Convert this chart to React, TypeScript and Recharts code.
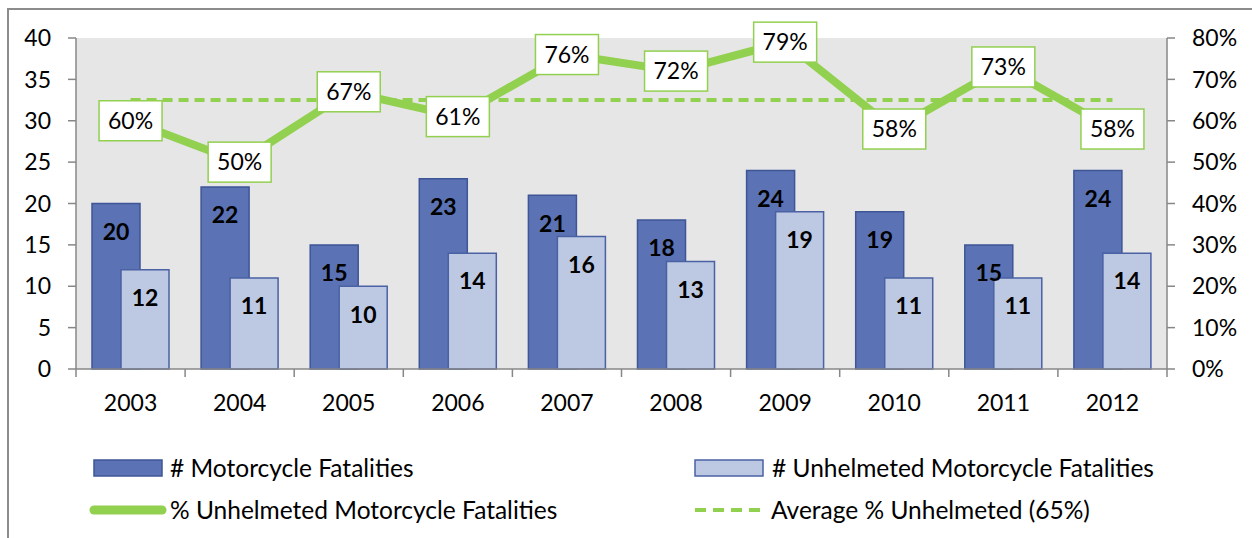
import {
  ComposedChart,
  Bar,
  Line,
  XAxis,
  YAxis,
  CartesianGrid,
  LabelList,
} from "recharts";

const years = ["2003", "2004", "2005", "2006", "2007", "2008", "2009", "2010", "2011", "2012"];
const fatalities = [20, 22, 15, 23, 21, 18, 24, 19, 15, 24];
const unhelmeted = [12, 11, 10, 14, 16, 13, 19, 11, 11, 14];
const pctUnhelmeted = [60, 50, 67, 61, 76, 72, 79, 58, 73, 58];
const avgPct = [65, 65, 65, 65, 65, 65, 65, 65, 65, 65];

const leftTicks = [0, 5, 10, 15, 20, 25, 30, 35, 40];
const rightTicks = [0, 10, 20, 30, 40, 50, 60, 70, 80];

const DARK = "#5b73b4";
const DARK_EDGE = "#3e5596";
const LIGHT = "#bdc9e3";
const LIGHT_EDGE = "#4a61a3";
const GREEN = "#92d050";
const AXIS = "#878787";
const FONT = "Lato, 'Open Sans', sans-serif";

const data = years.map((year, i) => ({
  year,
  total: fatalities[i],
  unhelmeted: unhelmeted[i],
  pct: pctUnhelmeted[i],
  avg: avgPct[i],
}));

// x ticks sit on the category boundaries, like the original
function YearTick(props: any) {
  const { x, y, payload, index } = props;
  const half = payload.offset || 0;
  const top = y - 26;
  return (
    <g>
      <line x1={x - half} x2={x - half} y1={top} y2={top + 8} stroke={AXIS} strokeWidth={1.5} />
      {index === years.length - 1 && (
        <line x1={x + half} x2={x + half} y1={top} y2={top + 8} stroke={AXIS} strokeWidth={1.5} />
      )}
      <text x={x} y={y} dy="0.71em" textAnchor="middle" fontSize={23} fill="#000" fontFamily={FONT}>
        {payload.value}
      </text>
    </g>
  );
}

function PctLabel(props: any) {
  const { x, y, value } = props;
  if (x == null || y == null) return null;
  return (
    <g>
      <rect x={x - 31.5} y={y - 20} width={63} height={40} fill="#fff" stroke={GREEN} strokeWidth={1.5} />
      <text x={x} y={y} dy="0.36em" textAnchor="middle" fontSize={23} fill="#000" fontFamily={FONT}>
        {value}%
      </text>
    </g>
  );
}

function LegendRow() {
  const text = { position: "absolute" as const, fontSize: 24.5, color: "#000", fontFamily: FONT, lineHeight: "26px" };
  return (
    <>
      <svg style={{ position: "absolute", left: 0, top: 440 }} width={1252} height={98}>
        <rect x={94} y={20} width={68} height={16} fill={DARK} stroke={DARK_EDGE} strokeWidth={1.5} />
        <rect x={695} y={20} width={68} height={16} fill={LIGHT} stroke={LIGHT_EDGE} strokeWidth={1.5} />
        <line x1={94} x2={162} y1={70} y2={70} stroke={GREEN} strokeWidth={9} strokeLinecap="round" />
        <line x1={695} x2={760} y1={70} y2={70} stroke={GREEN} strokeWidth={4} strokeDasharray="11 7" />
      </svg>
      <div style={{ ...text, left: 170, top: 455 }}># Motorcycle Fatalities</div>
      <div style={{ ...text, left: 772, top: 455 }}># Unhelmeted Motorcycle Fatalities</div>
      <div style={{ ...text, left: 170, top: 497 }}>% Unhelmeted Motorcycle Fatalities</div>
      <div style={{ ...text, left: 771, top: 497 }}>Average % Unhelmeted (65%)</div>
    </>
  );
}

export default function App() {
  return (
    <div
      style={{
        position: "absolute",
        left: 0,
        top: 0,
        width: 1252,
        height: 538,
        background: "#fff",
        overflow: "hidden",
        fontFamily: FONT,
      }}
    >
      <div
        style={{
          position: "absolute",
          left: 7,
          top: 8,
          width: 1300,
          height: 600,
          border: "2px solid #8c8c8c",
        }}
      />
      <div style={{ position: "absolute", left: 0, top: 0 }}>
        <ComposedChart
          width={1252}
          height={440}
          data={data}
          margin={{ top: 38, right: 25, bottom: 21, left: 16 }}
          barGap={-19}
        >
          <CartesianGrid fill="#e6e6e6" horizontal={false} vertical={false} stroke="none" />
          <XAxis
            dataKey="year"
            height={50}
            tickLine={false}
            tickSize={8}
            tickMargin={18}
            axisLine={{ stroke: AXIS, strokeWidth: 1.5 }}
            tick={<YearTick />}
            interval={0}
          />
          <YAxis
            yAxisId="l"
            width={60}
            domain={[0, 40]}
            ticks={leftTicks}
            tickSize={8}
            tickMargin={17}
            axisLine={{ stroke: AXIS, strokeWidth: 1.5 }}
            tickLine={{ stroke: AXIS, strokeWidth: 1.5 }}
            tick={{ fill: "#000", fontSize: 23, fontFamily: FONT }}
          />
          <YAxis
            yAxisId="r"
            orientation="right"
            width={60}
            domain={[0, 80]}
            ticks={rightTicks}
            tickSize={8}
            tickMargin={17}
            tickFormatter={(v: number) => v + "%"}
            axisLine={{ stroke: AXIS, strokeWidth: 1.5 }}
            tickLine={{ stroke: AXIS, strokeWidth: 1.5 }}
            tick={{ fill: "#000", fontSize: 23, fontFamily: FONT }}
          />
          <Bar yAxisId="l" dataKey="total" fill={DARK} stroke={DARK_EDGE} strokeWidth={1.5} barSize={48} isAnimationActive={false}>
            <LabelList dataKey="total" position="insideTop" offset={20} fill="#000" fontSize={23} fontWeight="bold" fontFamily={FONT} />
          </Bar>
          <Bar yAxisId="l" dataKey="unhelmeted" fill={LIGHT} stroke={LIGHT_EDGE} strokeWidth={1.5} barSize={48} isAnimationActive={false}>
            <LabelList dataKey="unhelmeted" position="insideTop" offset={20} fill="#000" fontSize={23} fontWeight="bold" fontFamily={FONT} />
          </Bar>
          <Line
            yAxisId="r"
            dataKey="avg"
            stroke={GREEN}
            strokeWidth={4}
            strokeDasharray="10 6"
            dot={false}
            activeDot={false}
            isAnimationActive={false}
          />
          <Line
            yAxisId="r"
            dataKey="pct"
            stroke={GREEN}
            strokeWidth={8}
            strokeLinejoin="round"
            dot={false}
            activeDot={false}
            isAnimationActive={false}
          >
            <LabelList dataKey="pct" content={<PctLabel />} />
          </Line>
        </ComposedChart>
      </div>
      <LegendRow />
    </div>
  );
}
